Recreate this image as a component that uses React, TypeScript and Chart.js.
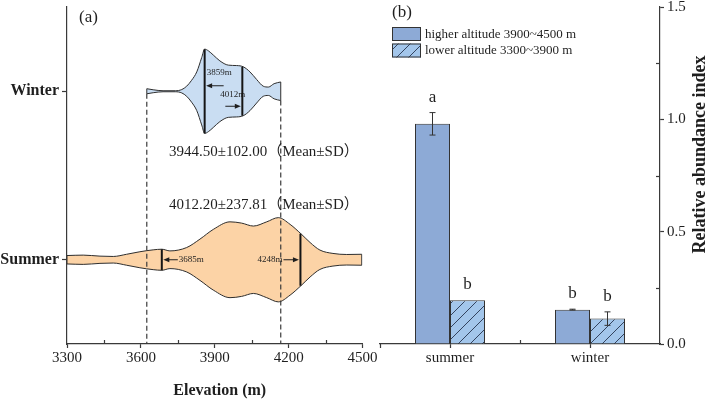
import { useEffect, useRef } from 'react';
import { Chart, registerables } from 'chart.js';

Chart.register(...registerables);

const SERIF = "'Liberation Serif', 'Times New Roman', 'Noto Sans CJK SC', serif";
const INK = '#1f1f1f';
const AXIS = '#3a3a3a';
const OUTLINE = '#2e2e2e';

// ---------- (a) elevation distribution by season ----------
const elevationTicks = [3300, 3600, 3900, 4200, 4500];
const elevationTickLabels = ['3300', '3600', '3900', '4200', '4500'];
const elevationMinorTicks = [3450, 3750, 4050, 4350];

const winterElevation = [3624, 3650, 3690, 3740, 3766, 3786, 3806, 3827, 3847, 3859, 3874, 3894, 3921, 3955, 3989, 4016, 4043, 4070, 4097, 4118, 4141, 4168];
const winterDensity = [0.06, 0.035, 0.012, 0.012, 0.04, 0.12, 0.26, 0.46, 0.8, 1.0, 0.96, 0.86, 0.72, 0.62, 0.61, 0.58, 0.46, 0.28, 0.12, 0.1, 0.18, 0.22];
const winterQuartiles = [3859, 4012];
const winterQuartileDensity = [1.0, 0.58];
const winterMeanSd = '3944.50±102.00（Mean±SD）';

const summerElevation = [3300, 3366, 3434, 3488, 3542, 3596, 3650, 3685, 3718, 3786, 3840, 3894, 3962, 4009, 4057, 4111, 4158, 4206, 4253, 4287, 4327, 4380, 4436, 4497];
const summerDensity = [0.1, 0.11, 0.086, 0.078, 0.13, 0.19, 0.235, 0.25, 0.21, 0.29, 0.49, 0.72, 0.9, 0.87, 0.8, 0.9, 1.0, 0.84, 0.6, 0.41, 0.23, 0.15, 0.125, 0.13];
const summerQuartiles = [3685, 4248];
const summerQuartileDensity = [0.25, 0.62];
const summerMeanSd = '4012.20±237.81（Mean±SD）';

// ---------- (b) relative abundance ----------
const seasons = ['summer', 'winter'];
const seriesNames = ['higher altitude 3900~4500 m', 'lower altitude 3300~3900 m'];
const higherAbundance = [0.98, 0.153];
const higherError = [0.05, 0.002];
const higherLetters = ['a', 'b'];
const lowerAbundance = [0.195, 0.113];
const lowerError = [0, 0.03];
const lowerLetters = ['b', 'b'];
const abundanceTicks = [0, 0.5, 1.0, 1.5];
const abundanceMinorTicks = [0.25, 0.75, 1.25];

const WINTER_ROW = 1.5;
const SUMMER_ROW = 0.5;
const HALF = 0.25; // violin half-width at peak density (row units)

const WINTER_FILL = '#C9DDF2';
const SUMMER_FILL = '#FCD3A6';
const HIGHER_FILL = '#8DAAD6';
const HATCH_BG = '#A3C6EB';
const HATCH_LINE = '#26344F';

function violinDatasets(elev: number[], dens: number[], row: number, fill: string) {
  const n = elev.length - 1;
  const curve = {
    borderColor: OUTLINE,
    borderWidth: 1,
    pointRadius: 0,
    cubicInterpolationMode: 'monotone',
    backgroundColor: fill,
    order: 5,
  };
  const cap = (i: number) => ({
    data: [
      { x: elev[i], y: row - HALF * dens[i] },
      { x: elev[i], y: row + HALF * dens[i] },
    ],
    borderColor: OUTLINE,
    borderWidth: 1,
    pointRadius: 0,
    fill: false,
    order: 4,
  });
  return [
    { ...curve, data: elev.map((e, i) => ({ x: e, y: row + HALF * dens[i] })), fill: false },
    { ...curve, data: elev.map((e, i) => ({ x: e, y: row - HALF * dens[i] })), fill: '-1' },
    cap(0),
    cap(n),
  ];
}

function quartileDatasets(qs: number[], dens: number[], row: number) {
  return qs.map((q, i) => ({
    data: [
      { x: q, y: row - HALF * dens[i] },
      { x: q, y: row + HALF * dens[i] },
    ],
    borderColor: '#151515',
    borderWidth: 2,
    pointRadius: 0,
    fill: false,
    order: 2,
  }));
}

function rangeDatasets() {
  const n = winterElevation.length - 1;
  return [0, n].map((i) => ({
    data: [
      { x: winterElevation[i], y: WINTER_ROW - HALF * winterDensity[i] },
      { x: winterElevation[i], y: 0 },
    ],
    borderColor: AXIS,
    borderWidth: 1.2,
    borderDash: [5, 3],
    pointRadius: 0,
    fill: false,
    order: 1,
  }));
}

function arrow(ctx: CanvasRenderingContext2D, x1: number, y: number, x2: number) {
  const dir = Math.sign(x2 - x1);
  ctx.beginPath();
  ctx.moveTo(x1, y);
  ctx.lineTo(x2 - dir * 4, y);
  ctx.stroke();
  ctx.beginPath();
  ctx.moveTo(x2, y);
  ctx.lineTo(x2 - dir * 6, y - 2.5);
  ctx.lineTo(x2 - dir * 6, y + 2.5);
  ctx.closePath();
  ctx.fill();
}

const panelAOverlay = {
  id: 'panelAOverlay',
  afterDatasetsDraw(chart: any) {
    const { ctx, chartArea, scales } = chart;
    const x = scales.x;
    const y = scales.y;
    ctx.save();
    ctx.fillStyle = INK;
    ctx.strokeStyle = INK;
    ctx.lineWidth = 1;

    // minor ticks, pointing inward
    ctx.strokeStyle = AXIS;
    ctx.lineWidth = 1.2;
    elevationMinorTicks.forEach((v) => {
      const px = Math.round(x.getPixelForValue(v)) + 0.5;
      ctx.beginPath();
      ctx.moveTo(px, chartArea.bottom);
      ctx.lineTo(px, chartArea.bottom - 4);
      ctx.stroke();
    });

    ctx.textBaseline = 'middle';
    ctx.textAlign = 'left';
    ctx.font = `17px ${SERIF}`;
    ctx.fillText('(a)', chartArea.left + 12, 18);

    ctx.font = `15px ${SERIF}`;
    ctx.fillText(winterMeanSd, x.getPixelForValue(3714), y.getPixelForValue(1.14));
    ctx.fillText(summerMeanSd, x.getPixelForValue(3714), y.getPixelForValue(0.825));

    // quartile call-outs
    ctx.font = `9px ${SERIF}`;
    ctx.strokeStyle = INK;
    ctx.lineWidth = 1;
    const wy = y.getPixelForValue(WINTER_ROW);
    const wq1 = x.getPixelForValue(winterQuartiles[0]);
    const wq3 = x.getPixelForValue(winterQuartiles[1]);
    ctx.textAlign = 'left';
    ctx.fillText(`${winterQuartiles[0]}m`, wq1 + 2, wy - 19);
    arrow(ctx, wq1 + 19, wy - 5.5, wq1 + 1.5);
    ctx.textAlign = 'right';
    ctx.fillText(`${winterQuartiles[1]}m`, wq3 + 3, wy + 3);
    arrow(ctx, wq3 - 17, wy + 15, wq3 - 1.5);

    const sy = y.getPixelForValue(SUMMER_ROW);
    const sq1 = x.getPixelForValue(summerQuartiles[0]);
    const sq3 = x.getPixelForValue(summerQuartiles[1]);
    arrow(ctx, sq1 + 16, sy, sq1 + 1.5);
    ctx.textAlign = 'left';
    ctx.fillText(`${summerQuartiles[0]}m`, sq1 + 17, sy);
    arrow(ctx, sq3 - 17, sy, sq3 - 1.5);
    ctx.textAlign = 'right';
    ctx.fillText(`${summerQuartiles[1]}m`, sq3 - 18, sy);

    // axis title
    ctx.textAlign = 'center';
    ctx.font = `bold 16px ${SERIF}`;
    ctx.fillText('Elevation (m)', (chartArea.left + chartArea.right) / 2 + 5, 391);
    ctx.restore();
  },
};

function makeHatch(): CanvasPattern | string {
  const c = document.createElement('canvas');
  c.width = 12;
  c.height = 12;
  const g = c.getContext('2d');
  if (!g) return HATCH_BG;
  g.fillStyle = HATCH_BG;
  g.fillRect(0, 0, 12, 12);
  g.strokeStyle = HATCH_LINE;
  g.lineWidth = 0.9;
  g.beginPath();
  g.moveTo(-1, 13);
  g.lineTo(13, -1);
  g.moveTo(-1, 1);
  g.lineTo(1, -1);
  g.moveTo(11, 13);
  g.lineTo(13, 11);
  g.stroke();
  return g.createPattern(c, 'repeat') || HATCH_BG;
}

const panelBOverlay = {
  id: 'panelBOverlay',
  afterDatasetsDraw(chart: any) {
    const { ctx, chartArea, scales } = chart;
    const x = scales.x;
    const y = scales.y;
    ctx.save();

    // error bars and significance letters
    const series = [
      { vals: higherAbundance, errs: higherError, letters: higherLetters },
      { vals: lowerAbundance, errs: lowerError, letters: lowerLetters },
    ];
    series.forEach((s, di) => {
      const meta = chart.getDatasetMeta(di);
      meta.data.forEach((bar: any, i: number) => {
        const cx = bar.x;
        const v = s.vals[i];
        const e = s.errs[i];
        if (e > 0) {
          const yt = y.getPixelForValue(v + e);
          const yb = y.getPixelForValue(v - e);
          ctx.strokeStyle = '#333';
          ctx.lineWidth = 1;
          ctx.beginPath();
          ctx.moveTo(cx, yt);
          ctx.lineTo(cx, yb);
          ctx.moveTo(cx - 3, yt);
          ctx.lineTo(cx + 3, yt);
          ctx.moveTo(cx - 3, yb);
          ctx.lineTo(cx + 3, yb);
          ctx.stroke();
        }
        ctx.fillStyle = INK;
        ctx.font = `17px ${SERIF}`;
        ctx.textAlign = 'center';
        ctx.textBaseline = 'alphabetic';
        ctx.fillText(s.letters[i], cx, y.getPixelForValue(v + e) - 11);
      });
    });

    // minor ticks, pointing inward
    ctx.strokeStyle = AXIS;
    ctx.lineWidth = 1.2;
    abundanceMinorTicks.forEach((v) => {
      const py = Math.round(y.getPixelForValue(v)) + 0.5;
      ctx.beginPath();
      ctx.moveTo(chartArea.right, py);
      ctx.lineTo(chartArea.right - 4, py);
      ctx.stroke();
    });
    const mid = Math.round(x.getPixelForValue(0.5)) + 0.5;
    ctx.beginPath();
    ctx.moveTo(mid, chartArea.bottom);
    ctx.lineTo(mid, chartArea.bottom - 4);
    ctx.stroke();
    ctx.beginPath();
    ctx.moveTo(chartArea.left + 0.5, chartArea.bottom);
    ctx.lineTo(chartArea.left + 0.5, chartArea.bottom + 4);
    ctx.stroke();

    // panel tag
    ctx.fillStyle = INK;
    ctx.textAlign = 'left';
    ctx.textBaseline = 'middle';
    ctx.font = `17px ${SERIF}`;
    ctx.fillText('(b)', chartArea.left + 12, 13);

    // legend
    const bx = chartArea.left + 12;
    chart.data.datasets.forEach((ds: any, i: number) => {
      const by = 27 + i * 16.5;
      ctx.fillStyle = ds.backgroundColor;
      ctx.fillRect(bx, by, 29, 14);
      ctx.strokeStyle = '#333';
      ctx.lineWidth = 1;
      ctx.strokeRect(bx + 0.5, by + 0.5, 28, 13);
      ctx.fillStyle = INK;
      ctx.font = `13px ${SERIF}`;
      ctx.fillText(ds.label, bx + 33, by + 7.5);
    });

    // right axis title, reading bottom to top
    ctx.save();
    ctx.translate(chartArea.right + 40, (chartArea.top + chartArea.bottom) / 2 - 21);
    ctx.rotate(-Math.PI / 2);
    ctx.textAlign = 'center';
    ctx.textBaseline = 'middle';
    ctx.font = `bold 18px ${SERIF}`;
    ctx.fillText('Relative abundance index', 0, 0);
    ctx.restore();

    ctx.restore();
  },
};

export default function App() {
  const aRef = useRef<HTMLCanvasElement>(null);
  const bRef = useRef<HTMLCanvasElement>(null);

  useEffect(() => {
    if (!aRef.current || !bRef.current) return;

    const chartA = new Chart(aRef.current, {
      type: 'line',
      data: {
        datasets: [
          ...rangeDatasets(),
          ...quartileDatasets(winterQuartiles, winterQuartileDensity, WINTER_ROW),
          ...quartileDatasets(summerQuartiles, summerQuartileDensity, SUMMER_ROW),
          ...violinDatasets(winterElevation, winterDensity, WINTER_ROW, WINTER_FILL),
          ...violinDatasets(summerElevation, summerDensity, SUMMER_ROW, SUMMER_FILL),
        ] as any,
      },
      options: {
        responsive: false,
        animation: false,
        devicePixelRatio: 1,
        layout: { padding: { top: 7, right: 32.5, left: 0, bottom: 0 } },
        plugins: { legend: { display: false }, tooltip: { enabled: false } },
        scales: {
          x: {
            type: 'linear',
            min: 3300,
            max: 4500,
            afterBuildTicks: (s: any) => {
              s.ticks = elevationTicks.map((v) => ({ value: v }));
            },
            afterFit: (s: any) => {
              s.height = 57;
              s.paddingLeft = 0;
              s.paddingRight = 0;
            },
            ticks: {
              autoSkip: false,
              maxRotation: 0,
              padding: 1,
              color: INK,
              font: { family: SERIF, size: 15 },
              callback: (v: any) => elevationTickLabels[elevationTicks.indexOf(Number(v))] ?? '',
            },
            grid: { drawOnChartArea: false, drawTicks: true, tickLength: 4, tickColor: AXIS, tickWidth: 1.2 },
            border: { display: true, color: AXIS, width: 1.2 },
          },
          y: {
            type: 'linear',
            min: 0,
            max: 2,
            afterBuildTicks: (s: any) => {
              s.ticks = [{ value: SUMMER_ROW }, { value: WINTER_ROW }];
            },
            afterFit: (s: any) => {
              s.width = 67;
              s.paddingTop = 0;
              s.paddingBottom = 0;
            },
            ticks: {
              padding: 3,
              color: INK,
              font: { family: SERIF, size: 16, weight: 'bold' },
              callback: (v: any) => (Number(v) === WINTER_ROW ? 'Winter' : 'Summer'),
            },
            grid: { drawOnChartArea: false, drawTicks: true, tickLength: 5, tickColor: AXIS, tickWidth: 1.2 },
            border: { display: true, color: AXIS, width: 1.2 },
          },
        },
      } as any,
      plugins: [panelAOverlay],
    });

    const hatch = makeHatch();
    const chartB = new Chart(bRef.current, {
      type: 'bar',
      data: {
        labels: seasons,
        datasets: [
          {
            label: seriesNames[0],
            data: higherAbundance,
            backgroundColor: HIGHER_FILL,
            borderColor: '#333',
            borderWidth: 1,
            categoryPercentage: 0.5,
            barPercentage: 1,
          },
          {
            label: seriesNames[1],
            data: lowerAbundance,
            backgroundColor: hatch as any,
            borderColor: '#333',
            borderWidth: 1,
            categoryPercentage: 0.5,
            barPercentage: 1,
          },
        ],
      },
      options: {
        responsive: false,
        animation: false,
        devicePixelRatio: 1,
        layout: { padding: { top: 7, right: 0, left: 10, bottom: 0 } },
        plugins: { legend: { display: false }, tooltip: { enabled: false } },
        scales: {
          x: {
            offset: true,
            afterFit: (s: any) => {
              s.height = 57;
              s.paddingLeft = 0;
              s.paddingRight = 0;
            },
            ticks: { padding: 1, color: INK, font: { family: SERIF, size: 15 } },
            grid: { offset: false, drawOnChartArea: false, drawTicks: true, tickLength: 4, tickColor: AXIS, tickWidth: 1.2 },
            border: { display: true, color: AXIS, width: 1.2 },
          },
          y: {
            position: 'right',
            min: 0,
            max: 1.5,
            afterBuildTicks: (s: any) => {
              s.ticks = abundanceTicks.map((v) => ({ value: v }));
            },
            afterFit: (s: any) => {
              s.width = 49;
              s.paddingTop = 0;
              s.paddingBottom = 0;
            },
            ticks: {
              padding: 3,
              color: INK,
              font: { family: SERIF, size: 15 },
              callback: (v: any) => Number(v).toFixed(1),
            },
            grid: { drawOnChartArea: false, drawTicks: true, tickLength: 4, tickColor: AXIS, tickWidth: 1.2 },
            border: { display: true, color: AXIS, width: 1.2 },
          },
        },
      } as any,
      plugins: [panelBOverlay],
    });

    return () => {
      chartA.destroy();
      chartB.destroy();
    };
  }, []);

  return (
    <div style={{ position: 'absolute', left: 0, top: 0, width: 709, height: 401, background: '#ffffff', overflow: 'hidden' }}>
      <canvas ref={aRef} width={395} height={401} style={{ position: 'absolute', left: 0, top: 0 }} />
      <canvas ref={bRef} width={339} height={401} style={{ position: 'absolute', left: 370, top: 0 }} />
    </div>
  );
}
